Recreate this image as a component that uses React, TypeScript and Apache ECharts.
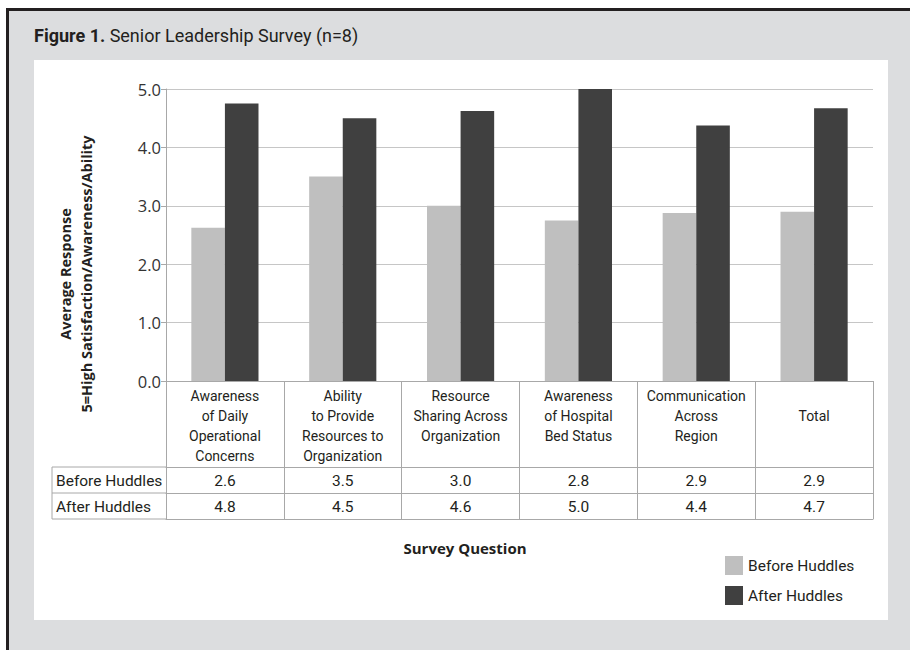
import React, { useEffect, useRef } from "react";
import * as echarts from "echarts";

// Survey questions (x categories) and average responses (n = 8)
const categories = [
  "Awareness\nof Daily\nOperational\nConcerns",
  "Ability\nto Provide\nResources to\nOrganization",
  "Resource\nSharing Across\nOrganization",
  "Awareness\nof Hospital\nBed Status",
  "Communication\nAcross\nRegion",
  "Total",
];
const seriesNames = ["Before Huddles", "After Huddles"];
const beforeHuddles = [2.625, 3.5, 3.0, 2.75, 2.875, 2.9];
const afterHuddles = [4.75, 4.5, 4.625, 5.0, 4.375, 4.67];
const yTicks = { min: 0, max: 5, interval: 1 };

const titleBold = "Figure 1.";
const titleRest = " Senior Leadership Survey (n=8)";
const yAxisTitle = ["Average Response", "5=High Satisfaction/Awareness/Ability"];
const xAxisTitle = "Survey Question";

const LIGHT = "#bfbfbf";
const DARK = "#404040";
const LINE = "#a8a8a8";
const TEXT = "#231f20";
const TABLE_FONT = "Roboto, 'Liberation Sans', sans-serif";
const AXIS_FONT = "'Open Sans', 'DejaVu Sans', sans-serif";

const fmt = (v: number) => v.toFixed(1);

export default function App() {
  const ref = useRef<HTMLDivElement>(null);

  useEffect(() => {
    if (!ref.current) return;
    const chart = echarts.init(ref.current, undefined, { renderer: "svg" });

    const gridLeft = 166;
    const gridRight = 37;
    const gridTop = 89;
    const gridBottom = 269;
    const labelRowH = 86;
    const rowH = 26;

    // one extra x axis per data-table row, stacked under the category labels
    const tableAxis = (
      offset: number,
      tickLen: number,
      values: number[] | null,
      margin: number
    ) => ({
      type: "category" as const,
      data: categories,
      position: "bottom" as const,
      offset,
      gridIndex: 0,
      axisLine: { show: true, lineStyle: { color: LINE, width: 1 } },
      axisTick: {
        show: tickLen > 0,
        length: tickLen,
        interval: 0,
        lineStyle: { color: LINE, width: 1 },
      },
      axisLabel: {
        show: values !== null,
        interval: 0,
        margin,
        fontSize: 15.5,
        lineHeight: 20,
        color: TEXT,
        fontFamily: TABLE_FONT,
        formatter: (_v: string, i: number) => (values ? fmt(values[i]) : ""),
      },
      splitLine: { show: false },
    });

    const tableTop = 650 - gridBottom + labelRowH;
    const tableLeft = 52;

    chart.setOption({
      animation: false,
      title: {
        text: `{b|${titleBold}}{r|${titleRest}}`,
        left: 34,
        top: 26,
        padding: 0,
        textStyle: {
          rich: {
            b: { fontSize: 18, fontWeight: "bold", color: TEXT, fontFamily: TABLE_FONT },
            r: { fontSize: 18, fontWeight: "normal", color: TEXT, fontFamily: TABLE_FONT },
          },
        },
      },
      legend: {
        orient: "vertical",
        left: 720,
        top: 551,
        itemWidth: 18,
        itemHeight: 19,
        itemGap: 11,
        icon: "rect",
        data: seriesNames,
        textStyle: { fontSize: 15.5, color: TEXT, fontFamily: TABLE_FONT },
      },
      grid: {
        left: gridLeft,
        right: gridRight,
        top: gridTop,
        bottom: gridBottom,
        containLabel: false,
      },
      xAxis: [
        {
          type: "category",
          data: categories,
          position: "bottom",
          axisLine: { show: true, lineStyle: { color: LINE, width: 1 } },
          axisTick: {
            show: true,
            length: labelRowH,
            interval: 0,
            lineStyle: { color: LINE, width: 1 },
          },
          axisLabel: {
            interval: 0,
            margin: 5,
            fontSize: 14,
            lineHeight: 20,
            color: TEXT,
            fontFamily: TABLE_FONT,
            formatter: (v: string) => (v.includes("\n") ? v : `{one|${v}}`),
            rich: {
              one: { fontSize: 14, lineHeight: 60, color: TEXT, fontFamily: TABLE_FONT },
            },
          },
        },
        tableAxis(labelRowH, rowH, beforeHuddles, 4),
        tableAxis(labelRowH + rowH, rowH, afterHuddles, 4),
        tableAxis(labelRowH + 2 * rowH, 0, null, 4),
      ],
      yAxis: {
        type: "value",
        min: yTicks.min,
        max: yTicks.max,
        interval: yTicks.interval,
        axisLine: { show: true, lineStyle: { color: LINE, width: 1 } },
        axisTick: { show: true, length: 5, lineStyle: { color: LINE } },
        axisLabel: {
          margin: 5,
          fontSize: 16.5,
          color: "#333",
          fontFamily: AXIS_FONT,
          formatter: (v: number) => fmt(v),
        },
        splitLine: { show: true, lineStyle: { color: "#c6c6c6", width: 1 } },
      },
      series: [
        {
          name: seriesNames[0],
          type: "bar",
          xAxisIndex: 0,
          data: beforeHuddles,
          itemStyle: { color: LIGHT },
          barGap: "0%",
          barCategoryGap: "43%",
        },
        {
          name: seriesNames[1],
          type: "bar",
          xAxisIndex: 0,
          data: afterHuddles,
          itemStyle: { color: DARK },
          barGap: "0%",
          barCategoryGap: "43%",
        },
      ],
      graphic: [
        // page frame: grey surround, dark top/left rule, white chart panel
        { type: "rect", z: -20, shape: { x: 9, y: 11, width: 901, height: 639 }, style: { fill: "#dcdddf" } },
        { type: "rect", z: -19, shape: { x: 6, y: 8, width: 904, height: 3 }, style: { fill: "#231f20" } },
        { type: "rect", z: -19, shape: { x: 6, y: 8, width: 3, height: 642 }, style: { fill: "#231f20" } },
        { type: "rect", z: -18, shape: { x: 34, y: 60, width: 854, height: 560 }, style: { fill: "#ffffff" } },
        // row-header cells of the data table
        {
          type: "polyline",
          z: 5,
          shape: {
            points: [
              [gridLeft, tableTop],
              [tableLeft, tableTop],
              [tableLeft, tableTop + 2 * rowH],
              [gridLeft, tableTop + 2 * rowH],
            ],
          },
          style: { stroke: LINE, fill: "none", lineWidth: 1 },
        },
        {
          type: "line",
          z: 5,
          shape: { x1: tableLeft, y1: tableTop + rowH, x2: gridLeft, y2: tableTop + rowH },
          style: { stroke: LINE, lineWidth: 1 },
        },
        ...seriesNames.map((name, i) => ({
          type: "text",
          z: 5,
          x: tableLeft + 4,
          y: tableTop + rowH * i + rowH / 2 + 1,
          style: {
            text: name,
            fontSize: 15.5,
            fill: TEXT,
            fontFamily: TABLE_FONT,
            verticalAlign: "middle",
            align: "left",
          },
        })),
        // y axis title (rotated, two centred lines)
        {
          type: "text",
          z: 5,
          x: 76,
          y: 274,
          rotation: Math.PI / 2,
          style: {
            text: yAxisTitle.join("\n"),
            fontSize: 14.5,
            fontWeight: "bold",
            lineHeight: 21,
            fill: TEXT,
            fontFamily: AXIS_FONT,
            align: "center",
            verticalAlign: "middle",
          },
        },
        // x axis title
        {
          type: "text",
          z: 5,
          x: 465,
          y: 548,
          style: {
            text: xAxisTitle,
            fontSize: 15,
            fontWeight: "bold",
            fill: TEXT,
            fontFamily: AXIS_FONT,
            align: "center",
            verticalAlign: "middle",
          },
        },
      ],
    });

    return () => chart.dispose();
  }, []);

  return (
    <div
      ref={ref}
      style={{ position: "absolute", left: 0, top: 0, width: 910, height: 650 }}
    />
  );
}
